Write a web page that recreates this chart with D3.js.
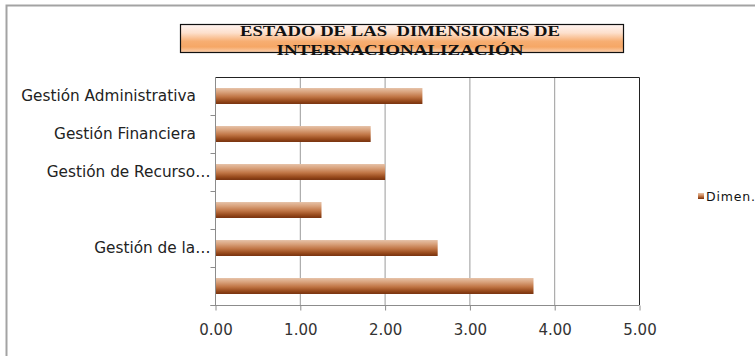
<!DOCTYPE html>
<html>
<head>
<meta charset="utf-8">
<script src="https://cdn.jsdelivr.net/npm/d3@7/dist/d3.min.js"></script>
<style>
  html, body { margin: 0; padding: 0; background: #fff; }
  svg { display: block; }
  .cat text, .title { white-space: pre; }
</style>
</head>
<body>
<svg id="chart" width="755" height="356"></svg>
<script>
// Chart content
const titleLines = ["ESTADO DE LAS  DIMENSIONES DE", "INTERNACIONALIZACIÓN"];
const categories = ["Gestión Administrativa   ", "Gestión Financiera   ", "Gestión de Recurso…", "", "Gestión de la…", ""];
const values = [2.44, 1.83, 2.00, 1.25, 2.62, 3.75];
const seriesName = "Dimen.";
const xTicks = [0, 1, 2, 3, 4, 5];

const svg = d3.select("#chart");
const defs = svg.append("defs");

// Bar fill: light top edge fading to dark brown at the bottom
const barGrad = defs.append("linearGradient").attr("id", "barGrad")
  .attr("x1", 0).attr("y1", 0).attr("x2", 0).attr("y2", 1);
[["0%", "#e6c2a8"], ["25%", "#d9a27c"], ["55%", "#c07545"], ["80%", "#9a4c1e"], ["100%", "#76300c"]]
  .forEach(([o, c]) => barGrad.append("stop").attr("offset", o).attr("stop-color", c));

// Title box fill
const titleGrad = defs.append("linearGradient").attr("id", "titleGrad")
  .attr("x1", 0).attr("y1", 0).attr("x2", 0).attr("y2", 1);
[["0%", "#fff4f2"], ["30%", "#fde0cc"], ["60%", "#f7ae72"], ["80%", "#f6a766"], ["100%", "#fbd2b2"]]
  .forEach(([o, c]) => titleGrad.append("stop").attr("offset", o).attr("stop-color", c));

// Outer chart frame (top and left edges)
svg.append("path")
  .attr("d", "M6.5,356 V5.5 H755")
  .attr("fill", "none").attr("stroke", "#a3a3a3").attr("stroke-width", 2);

// Scales
const plot = { left: 215.5, right: 639.5, top: 77, bottom: 305 };
const x = d3.scaleLinear().domain([0, 5]).range([plot.left, plot.right]);
const y = d3.scaleBand().domain(d3.range(categories.length))
  .range([plot.top, plot.bottom]).paddingInner(0.58).paddingOuter(0.29);

// Vertical gridlines
svg.append("g").selectAll("line").data(xTicks.slice(1, -1)).join("line")
  .attr("x1", d => x(d)).attr("x2", d => x(d))
  .attr("y1", plot.top).attr("y2", plot.bottom)
  .attr("stroke", "#9a9a9a").attr("stroke-width", 1);

// Plot area frame: top and right edges
svg.append("path")
  .attr("d", `M${plot.left},${plot.top + 0.5} H${x(5)} V${plot.bottom}`)
  .attr("fill", "none").attr("stroke", "#222").attr("stroke-width", 1);

// Bars
svg.append("g").selectAll("rect").data(values).join("rect")
  .attr("x", x(0))
  .attr("y", (d, i) => y(i))
  .attr("width", d => x(d) - x(0))
  .attr("height", y.bandwidth())
  .attr("fill", "url(#barGrad)");

// X axis
const xAxis = svg.append("g")
  .attr("transform", `translate(0,${plot.bottom + 0.5})`)
  .call(d3.axisBottom(x).tickValues(xTicks).tickFormat(d3.format(".2f")).tickSize(5).tickSizeOuter(0));
xAxis.attr("font-family", "DejaVu Sans, sans-serif").attr("font-size", 15);
xAxis.select(".domain").attr("stroke", "#8c8c8c").attr("d", `M${plot.left - 5},0H${plot.right}`);
xAxis.selectAll(".tick line").attr("stroke", "#8c8c8c");
xAxis.selectAll(".tick text").attr("fill", "#333").attr("dy", "1.4em");

// Y axis: category labels
const yAxis = svg.append("g").attr("class", "cat")
  .attr("transform", `translate(${plot.left},0)`)
  .call(d3.axisLeft(y).tickFormat(i => categories[i]).tickSize(0).tickPadding(5));
yAxis.attr("font-family", "DejaVu Sans, sans-serif").attr("font-size", 15.3);
yAxis.select(".domain").attr("stroke", "#8c8c8c").attr("d", `M0,${plot.top}V${plot.bottom}`);
yAxis.selectAll(".tick text").attr("fill", "#222");

// Category boundary ticks
const boundaries = d3.range(1, categories.length + 1).map(i => y(i - 1) + y.bandwidth() + y.step() * y.paddingInner() / 2);
svg.append("g").selectAll("line").data(boundaries).join("line")
  .attr("x1", plot.left - 5).attr("x2", plot.left)
  .attr("y1", d => Math.round(d) + 0.5).attr("y2", d => Math.round(d) + 0.5)
  .attr("stroke", "#8c8c8c");

// Title box
svg.append("rect")
  .attr("x", 180.5).attr("y", 24.5).attr("width", 443).attr("height", 28)
  .attr("fill", "url(#titleGrad)").attr("stroke", "#111").attr("stroke-width", 1.2);
const titleWidths = [320, 247];
const title = svg.append("text").attr("class", "title")
  .attr("font-family", "Liberation Serif, Times New Roman, serif")
  .attr("font-weight", "bold").attr("font-size", 15).attr("fill", "#111");
title.selectAll("tspan").data(titleLines).join("tspan")
  .attr("x", (d, i) => 400 - titleWidths[i] / 2)
  .attr("y", (d, i) => 36 + i * 18.5)
  .attr("textLength", (d, i) => titleWidths[i])
  .attr("lengthAdjust", "spacingAndGlyphs")
  .text(d => d);

// Legend
const legend = svg.append("g").attr("transform", "translate(698,193)");
legend.append("rect").attr("width", 6).attr("height", 6).attr("fill", "url(#barGrad)");
legend.append("text").attr("x", 8).attr("y", 8)
  .attr("font-family", "DejaVu Sans, sans-serif").attr("font-size", 12.5)
  .attr("letter-spacing", 0.8).attr("fill", "#111")
  .text(seriesName);
</script>
</body>
</html>
